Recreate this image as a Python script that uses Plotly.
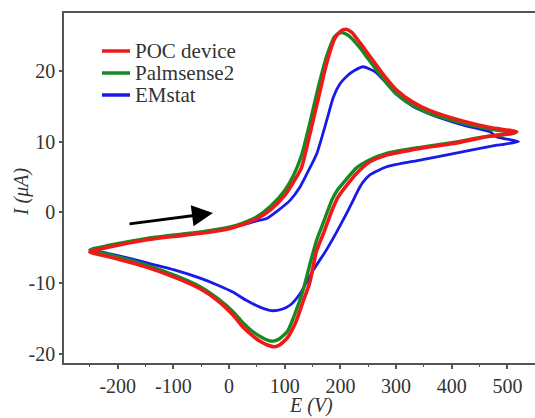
import plotly.graph_objects as go

# ---------------- data ----------------
# POC device (red): forward scan then reverse scan
poc_E_fwd = [-250, -215, -150, -100, -50, 0, 25, 50, 75, 100, 115, 130, 145, 160, 175, 190, 200, 210, 220, 235, 250, 280, 301, 330, 361, 421, 469, 517]
poc_I_fwd = [-5.6, -4.9, -3.9, -3.4, -2.95, -2.3, -1.7, -0.9, 0.4, 2.4, 4.2, 6.3, 11.0, 16.0, 21.0, 24.6, 25.6, 25.9, 25.5, 24.0, 22.4, 19.2, 17.3, 15.6, 14.4, 12.9, 12.0, 11.4]
poc_E_rev = [490, 463, 403, 343, 283, 253, 229, 212, 196, 185, 170, 157, 145, 133, 120, 105, 90, 82, 70, 55, 40, 25, 8, -20, -52, -94, -154, -214, -250]
poc_I_rev = [11.0, 10.7, 9.75, 9.05, 8.1, 7.15, 5.5, 3.9, 2.2, 0.3, -2.9, -5.5, -9.9, -12.6, -15.5, -17.7, -18.8, -19.0, -18.8, -18.2, -17.3, -16.2, -14.6, -12.5, -10.8, -9.3, -7.6, -6.3, -5.6]

# Palmsense2 (green)
ps_E_fwd = [-250, -215, -150, -100, -50, 0, 25, 50, 75, 100, 115, 130, 145, 160, 175, 190, 200, 205, 215, 235, 250, 280, 301, 330, 361, 421, 469, 514]
ps_I_fwd = [-5.3, -4.65, -3.7, -3.2, -2.75, -2.1, -1.5, -0.6, 0.9, 3.1, 5.1, 8.0, 12.6, 17.6, 22.0, 24.9, 25.4, 25.4, 25.0, 23.3, 21.7, 18.6, 16.7, 15.1, 14.0, 12.6, 11.8, 11.2]
ps_E_rev = [490, 463, 403, 343, 283, 253, 229, 212, 196, 185, 170, 157, 145, 133, 120, 105, 90, 80, 70, 55, 40, 25, 8, -20, -52, -94, -154, -214, -250]
ps_I_rev = [10.95, 10.75, 9.9, 9.2, 8.35, 7.45, 6.3, 4.8, 3.3, 1.8, -1.3, -4.0, -7.4, -11.0, -14.0, -16.8, -17.9, -18.2, -18.1, -17.5, -16.7, -15.6, -14.1, -12.2, -10.5, -9.0, -7.3, -6.0, -5.3]

# EMstat (blue)
em_E_fwd = [-240, -215, -150, -100, -50, 0, 30, 50, 67.6, 90, 109.5, 127.5, 142, 157.5, 175.4, 187.3, 199.3, 212, 226, 241, 262, 280, 301, 330, 361, 421, 469, 480, 520]
em_I_fwd = [-5.35, -4.75, -3.8, -3.3, -2.85, -2.2, -1.65, -1.2, -0.85, 0.4, 1.7, 3.6, 5.8, 8.3, 13.0, 16.3, 18.2, 19.3, 20.1, 20.6, 19.9, 18.5, 16.7, 15.0, 13.9, 12.35, 11.4, 10.7, 10.0]
em_E_rev = [481, 403, 343, 283, 253, 240, 229, 223, 200, 175, 151, 127.5, 110, 95, 76.6, 55.6, 30, 7.6, -20, -52, -100, -154, -200, -240]
em_I_rev = [9.5, 8.3, 7.4, 6.45, 5.3, 4.2, 2.7, 1.7, -1.8, -5.3, -8.2, -11.5, -13.1, -13.7, -13.9, -13.4, -12.4, -11.3, -10.3, -9.3, -8.1, -7.0, -6.1, -5.4]

series_names = ["POC device", "Palmsense2", "EMstat"]
series_colors = ["#f01818", "#168a22", "#1a1ae8"]

x_tickvals = [-200, -100, 0, 100, 200, 300, 400, 500]
x_ticktext = ["-200", "-100", "0", "100", "200", "300", "400", "500"]
y_tickvals = [-20, -10, 0, 10, 20]
y_ticktext = ["-20", "-10", "0", "10", "20"]

# scan-direction arrow (tail -> head), data coordinates
arrow_tail = (-181.5, -1.65)
arrow_head = (-28.9, -0.1)

FONT = '"Liberation Serif", "Times New Roman", "DejaVu Serif", serif'

series = [
    (series_names[0], poc_E_fwd + poc_E_rev, poc_I_fwd + poc_I_rev, series_colors[0], 3.6),
    (series_names[1], ps_E_fwd + ps_E_rev, ps_I_fwd + ps_I_rev, series_colors[1], 3.4),
    (series_names[2], em_E_fwd + em_E_rev, em_I_fwd + em_I_rev, series_colors[2], 2.8),
]

fig = go.Figure()
# draw blue first, red last (red on top)
for name, xs, ys, col, w in reversed(series):
    fig.add_trace(go.Scatter(
        x=xs, y=ys, mode="lines", name=name,
        line=dict(color=col, width=w, shape="spline", smoothing=0.6),
        showlegend=False,
    ))

axis_col = "#555555"
fig.update_layout(
    width=535, height=418, autosize=False,
    margin=dict(l=64, r=0, t=13, b=55),
    paper_bgcolor="white", plot_bgcolor="white",
    font=dict(family=FONT, size=20, color="#333333"),
    xaxis=dict(
        range=[-296.5, 549.6], showgrid=False, zeroline=False,
        showline=True, linecolor=axis_col, linewidth=1.5, mirror=True,
        ticks="outside", ticklen=4, tickwidth=1.5, tickcolor=axis_col,
        tickvals=x_tickvals, ticktext=x_ticktext,
        minor=dict(dtick=50, tick0=0, ticks="outside", ticklen=2, tickcolor=axis_col, tickwidth=1),
        tickfont=dict(family=FONT, size=20, color="#333333"),
    ),
    yaxis=dict(
        range=[-21.3, 28.2], showgrid=False, zeroline=False,
        showline=True, linecolor=axis_col, linewidth=1.5, mirror=False,
        ticks="outside", ticklen=3, tickwidth=1.5, tickcolor=axis_col,
        tickvals=y_tickvals, ticktext=y_ticktext,
        tickfont=dict(family=FONT, size=20, color="#333333"),
    ),
)

# axis titles
fig.add_annotation(text="<i>E (V)</i>", xref="paper", yref="paper", x=0.524, y=-0.12,
                   showarrow=False, font=dict(family=FONT, size=20, color="#333333"),
                   xanchor="center", yanchor="middle")
fig.add_annotation(text="<i>I (μA)</i>", xref="paper", yref="paper", x=-0.09, y=0.49,
                   showarrow=False, textangle=-90, font=dict(family=FONT, size=20, color="#333333"),
                   xanchor="center", yanchor="middle")

# scan direction arrow
fig.add_annotation(x=arrow_head[0], y=arrow_head[1], ax=arrow_tail[0], ay=arrow_tail[1],
                   xref="x", yref="y", axref="x", ayref="y", text="",
                   showarrow=True, arrowhead=2, arrowsize=1.4, arrowwidth=3, arrowcolor="black")

# legend (drawn in paper coordinates)
plot_l, plot_w, plot_t, plot_h = 64, 471, 13, 350
row_y = [51.0, 73.0, 95.0]
for (name, _, _, col, _), yy in zip(series, row_y):
    yp = 1 - (yy - plot_t) / plot_h
    fig.add_shape(type="line", xref="paper", yref="paper",
                  x0=(102 - plot_l) / plot_w, x1=(130 - plot_l) / plot_w, y0=yp, y1=yp,
                  line=dict(color=col, width=3.5))
    fig.add_annotation(text=name, xref="paper", yref="paper", x=(133 - plot_l) / plot_w, y=yp,
                       showarrow=False, xanchor="left", yanchor="middle",
                       font=dict(family=FONT, size=21, color="#333333"))

fig.write_html("out.html", config={"displayModeBar": False},
               post_script="document.body.style.margin='0';document.body.style.overflow='hidden';")
